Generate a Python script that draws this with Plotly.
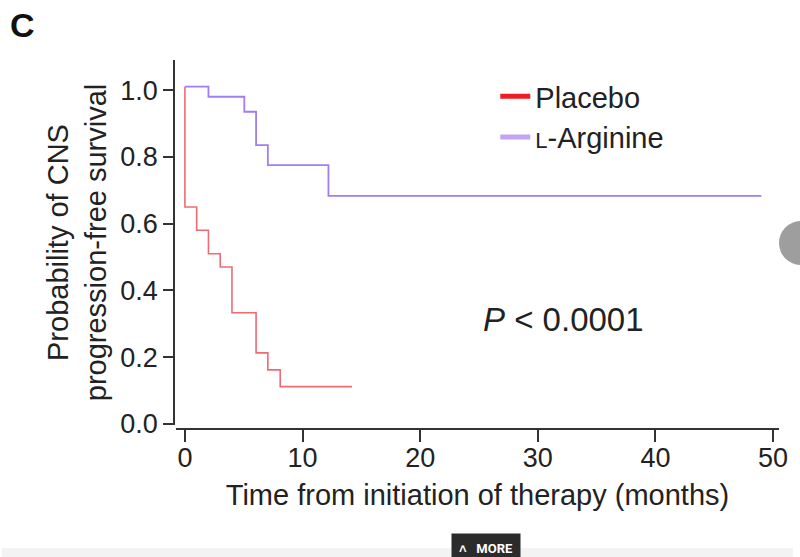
import plotly.graph_objects as go

# ---- data ----
placebo_t = [0, 0, 1, 2, 3, 4, 6.05, 7.05, 8.1, 14.2]
placebo_s = [1.01, 0.65, 0.58, 0.51, 0.47, 0.333, 0.213, 0.162, 0.112, 0.112]
arginine_t = [0, 2, 5.05, 6.05, 7.05, 12.2, 49.0]
arginine_s = [1.01, 0.98, 0.935, 0.835, 0.775, 0.683, 0.683]
series_names = ["Placebo", '<span style="font-size:22px">L</span>-Arginine']
x_ticks = [0, 10, 20, 30, 40, 50]
y_ticks = [0.0, 0.2, 0.4, 0.6, 0.8, 1.0]
p_text = "<i>P</i> < 0.0001"

FONT = "Liberation Sans, Arial, sans-serif"
W, H = 800, 557
ML, MR, MT, MB = 174, 14, 60, 128
PW, PH = W - ML - MR, H - MT - MB

def px(x):
    return (x - ML) / PW

def py(y):
    return (H - MB - y) / PH

fig = go.Figure()
fig.add_trace(go.Scatter(x=placebo_t, y=placebo_s, mode="lines", line_shape="hv",
                         line=dict(color="#f06a73", width=1.6), showlegend=False))
fig.add_trace(go.Scatter(x=arginine_t, y=arginine_s, mode="lines", line_shape="hv",
                         line=dict(color="#a07ef2", width=1.8), showlegend=False))
# legend entries
fig.add_trace(go.Scatter(x=[None], y=[None], mode="lines", name=series_names[0],
                         line=dict(color="#ee1c25", width=5)))
fig.add_trace(go.Scatter(x=[None], y=[None], mode="lines", name=series_names[1],
                         line=dict(color="#c3a3f3", width=5)))

axis_common = dict(showline=True, linecolor="#333333", linewidth=1.5,
                   ticks="outside", tickwidth=1.5, tickcolor="#333333",
                   showgrid=False, zeroline=False,
                   tickfont=dict(family=FONT, size=27, color="#222222"))

fig.update_layout(
    width=W, height=H,
    margin=dict(l=ML, r=MR, t=MT, b=MB),
    paper_bgcolor="white", plot_bgcolor="white",
    font=dict(family=FONT, color="#222222"),
    title=dict(text="<b>C</b>", x=10 / W, xref="container", xanchor="left",
               y=1 - 25 / H, yref="container", yanchor="middle",
               font=dict(family=FONT, size=34, color="#111111")),
    xaxis=dict(**axis_common, anchor="free", position=0,
               domain=[px(176), 1], range=[-0.76, 50.5],
               tickvals=x_ticks, ticklen=12, ticklabelstandoff=-7,
               title=dict(text="Time from initiation of therapy (months)",
                          font=dict(family=FONT, size=29, color="#222222"), standoff=12)),
    yaxis=dict(**axis_common, anchor="free", position=0,
               domain=[(429 - 425) / PH, 1], range=[-0.003, 1.09],
               tickvals=y_ticks, tickformat=".1f", ticklen=10,
               title=dict(text="Probability of CNS<br>progression-free survival",
                          font=dict(family=FONT, size=29, color="#222222"), standoff=4)),
    legend=dict(x=px(499), y=py(71), xanchor="left", yanchor="top",
                bgcolor="rgba(0,0,0,0)", tracegroupgap=0,
                font=dict(family=FONT, size=29, color="#222222")),
    showlegend=True,
)

fig.add_annotation(text=p_text, x=px(568), y=py(319), xref="paper", yref="paper",
                   showarrow=False, xanchor="center", yanchor="middle",
                   font=dict(family=FONT, size=33, color="#222222"))

# page artefacts: gray circle at right edge, bottom strip and MORE button
fig.add_shape(type="circle", xref="paper", yref="paper",
              x0=px(786), x1=px(830), y0=py(265), y1=py(221),
              fillcolor="#9e9e9e", line=dict(width=0), layer="above")
fig.add_shape(type="rect", xref="paper", yref="paper",
              x0=px(0), x1=px(800), y0=py(557), y1=py(548),
              fillcolor="#f3f3f3", line=dict(width=0), layer="below")
fig.add_annotation(text="<b>\u02c4   MORE</b>", x=px(490), y=py(548), xref="paper", yref="paper",
                   showarrow=False, xanchor="center", yanchor="middle",
                   bgcolor="#2b2b2b", borderpad=7,
                   font=dict(family="Roboto, sans-serif", size=13, color="white"))

fig.write_html("out.html")
